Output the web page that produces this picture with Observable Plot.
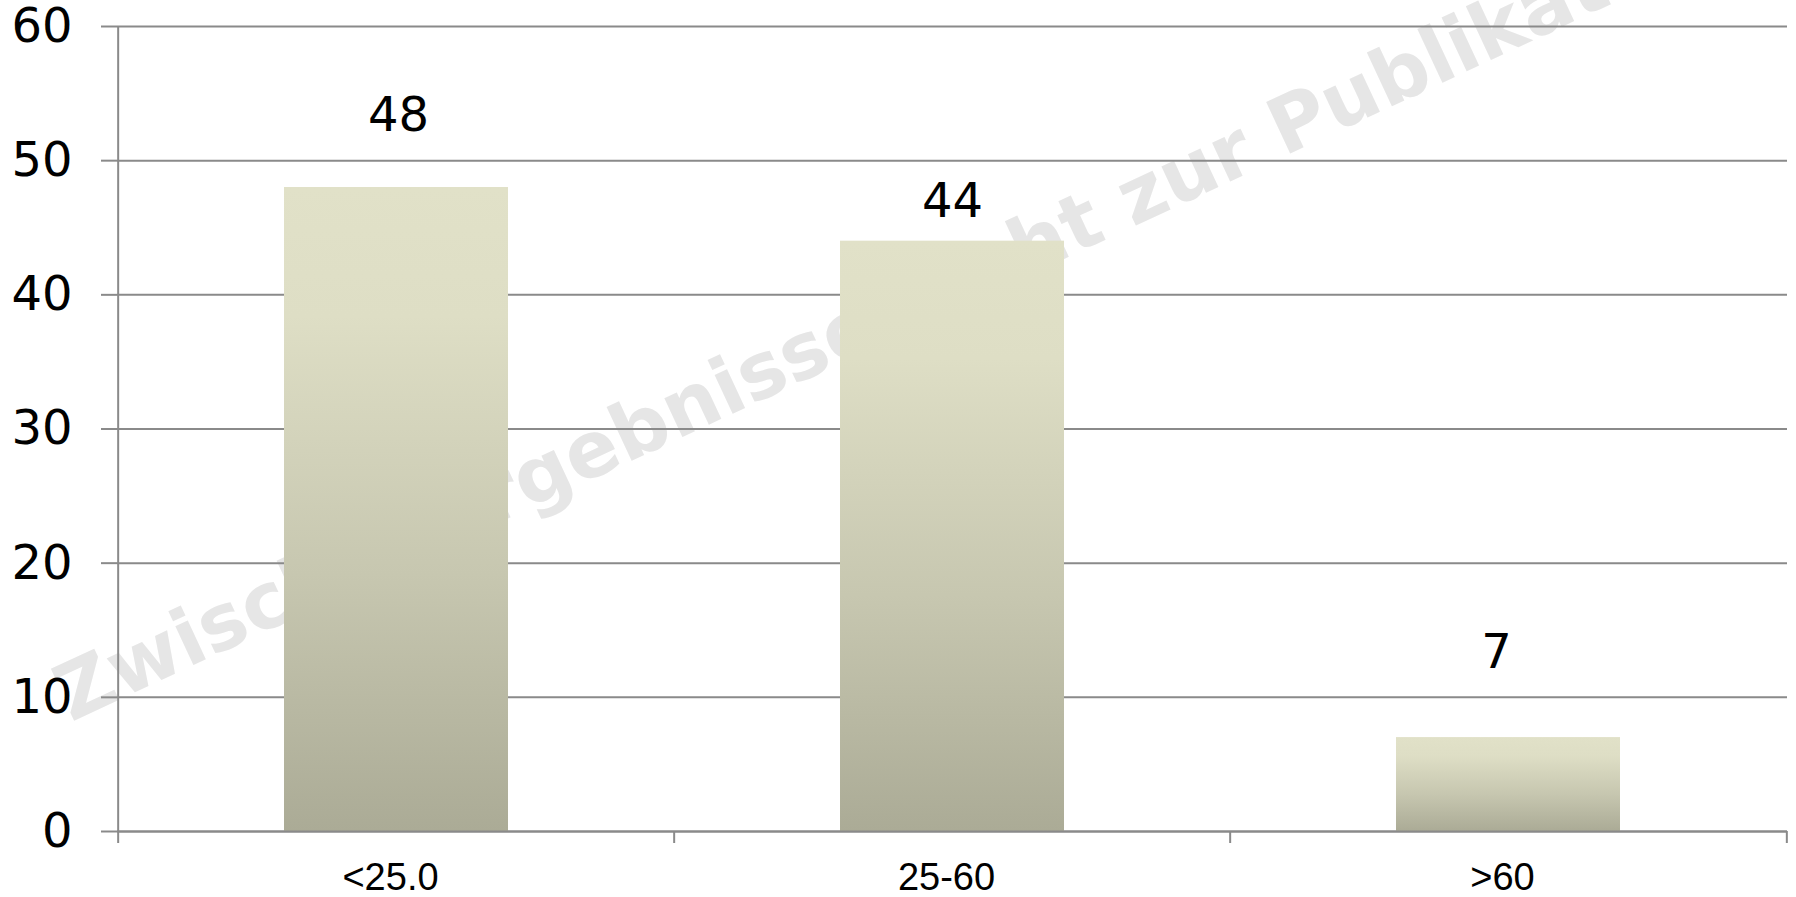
<!DOCTYPE html>
<html>
<head>
<meta charset="utf-8">
<script src="https://cdn.jsdelivr.net/npm/d3@7"></script>
<script src="https://cdn.jsdelivr.net/npm/@observablehq/plot@0.6"></script>
<style>
  html, body { margin: 0; padding: 0; background: #ffffff; }
  #chart svg { display: block; background: #ffffff; }
</style>
</head>
<body>
<div id="chart"></div>
<script>
// ---- data ----
const categories = ["<25.0", "25-60", ">60"];
const values = [48, 44, 7];
const yTicks = [0, 10, 20, 30, 40, 50, 60];
const watermark = "Zwischenergebnisse nicht zur Publikation";

// ---- layout / style ----
const W = 1796, H = 897;
const mL = 117, mR = 9, mT = 26, mB = 66;
const step = (W - mL - mR) / categories.length;
const frameH = H - mT - mB;
const gridColor = "#8a8a8a";
const labelDy = {"<25.0": -72, "25-60": -40, ">60": -85};
const labelDx = {"<25.0": 2, "25-60": 0, ">60": -12};

const data = categories.map((c, i) => ({category: c, value: values[i]}));

const defs = () => {
  const d = d3.create("svg:defs");
  const g = d.append("linearGradient").attr("id", "barGrad")
    .attr("x1", 0).attr("y1", 0).attr("x2", 0).attr("y2", 1);
  g.append("stop").attr("offset", 0).attr("stop-color", "#e1e1c8");
  g.append("stop").attr("offset", 0.2).attr("stop-color", "#dedec5");
  g.append("stop").attr("offset", 0.6).attr("stop-color", "#c7c7b0");
  g.append("stop").attr("offset", 1).attr("stop-color", "#abab96");
  return d.node();
};

const valueLabels = categories.map(c => Plot.text(data.filter(d => d.category === c), {
  x: "category", y: "value", text: d => String(d.value),
  dy: labelDy[c], dx: labelDx[c],
  fontSize: 48, fontFamily: "DejaVu Sans, Verdana, sans-serif", fill: "#000"
}));

const chart = Plot.plot({
  width: W, height: H,
  marginLeft: mL, marginRight: mR, marginTop: mT, marginBottom: mB,
  x: {type: "band", domain: categories, paddingInner: 0.598, paddingOuter: 0.299, align: 0.5},
  y: {domain: [0, 60]},
  marks: [
    defs,
    Plot.text([watermark], {
      frameAnchor: "top-left", text: d => d, rotate: -25,
      textAnchor: "start", lineAnchor: "middle",
      dx: -57, dy: 673,
      fontSize: 78, fontWeight: "bold", fontFamily: "DejaVu Sans, Verdana, sans-serif",
      fill: "#e6e6e6"
    }),
    Plot.gridY(yTicks, {stroke: gridColor, strokeOpacity: 1, strokeWidth: 2}),
    Plot.axisY({
      ticks: yTicks, tickSize: 16, tickPadding: 29, label: null,
      stroke: gridColor, strokeWidth: 2, fill: "#000",
      fontSize: 48, fontFamily: "DejaVu Sans, Verdana, sans-serif"
    }),
    Plot.barY(data, {
      x: "category", y: "value", fill: "url(#barGrad)",
      style: {filter: "drop-shadow(0px 0px 3px rgba(0,0,0,0.18))"}
    }),
    // left axis line
    Plot.tickX([categories[0]], {x: d => d, dx: -step / 2, insetBottom: -12, stroke: gridColor, strokeWidth: 2}),
    // category boundary ticks
    Plot.tickX(categories.slice(1), {x: d => d, dx: -step / 2, insetTop: frameH, insetBottom: -12, stroke: gridColor, strokeWidth: 2}),
    Plot.tickX([categories[categories.length - 1]], {x: d => d, dx: step / 2, insetTop: frameH, insetBottom: -12, stroke: gridColor, strokeWidth: 2}),
    Plot.ruleY([0], {stroke: gridColor, strokeWidth: 2}),
    Plot.axisX({
      tickSize: 0, tickPadding: 32, label: null, dx: -6, fill: "#000",
      fontSize: 38, fontFamily: "Liberation Sans, Arial, sans-serif"
    }),
    ...valueLabels
  ]
});

document.getElementById("chart").appendChild(chart);
</script>
</body>
</html>
